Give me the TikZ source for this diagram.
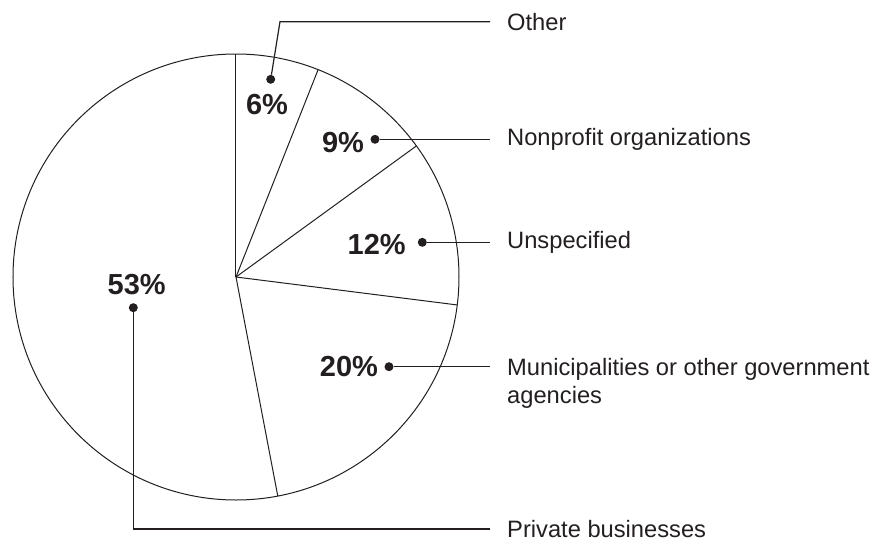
\documentclass[tikz,border=0pt]{standalone}
\usepackage{fontspec}
\setmainfont{Liberation Sans}
\definecolor{ink}{HTML}{231F20}
\begin{document}
\begin{tikzpicture}
[
x=1pt, y=1pt,
slice/.style={draw=ink, line width=1pt},
lead/.style={draw=ink, line width=1.2pt},
dot/.style={circle, fill=ink, inner sep=0pt, minimum size=9pt},
pct/.style={font=\fontsize{29}{30}\selectfont\bfseries, text=ink, inner sep=0pt},
legend/.style={font=\fontsize{23.7}{28.5}\selectfont, text=ink, anchor=west, inner xsep=17pt, inner ysep=0pt, align=left}
]
\useasboundingbox (-236,-265) rectangle (650,277);

%Pie
\coordinate (centre) at (0,0);
\draw[slice] (centre) circle [radius=223pt];
\foreach \a in {90,68.4,36,-7.2,-79.2}
  \draw[slice] (centre) -- (\a:223pt);

%Nodes
\node[pct]    (p6)        at (31,172)       {6\%};
\node[dot]    (d6)        at (34.7,197.7)   {};
\coordinate   (k6)        at (44,255.3);
\node[legend] (other)     at (254,255.3)    {Other};

\node[pct]    (p9)        at (107,134)      {9\%};
\node[dot]    (d9)        at (139,137.7)    {};
\node[legend] (nonprofit) at (254,137.7)    {Nonprofit organizations};

\node[pct]    (p12)       at (140.7,33)     {12\%};
\node[dot]    (d12)       at (186.3,34.7)   {};
\node[legend] (unspec)    at (254,34.7)     {Unspecified};

\node[pct]    (p20)       at (113,-90)      {20\%};
\node[dot]    (d20)       at (153,-89.7)    {};
\node[legend, anchor=north west] (muni) at (254,-81)
  {Municipalities or other government\\agencies};

\node[pct]    (p53)       at (-99.3,-8)     {53\%};
\node[dot]    (d53)       at (-102.7,-30.7) {};
\node[legend] (private)   at (254,-252)     {Private businesses};

%Lines
\draw[lead] (d6) -- (k6) -- (other.west);
\draw[lead] (d9) -- (nonprofit.west);
\draw[lead] (d12) -- (unspec.west);
\draw[lead] (d20) -- (d20 -| muni.west);
\draw[lead] (d53) |- (private.west);
\end{tikzpicture}
\end{document}
